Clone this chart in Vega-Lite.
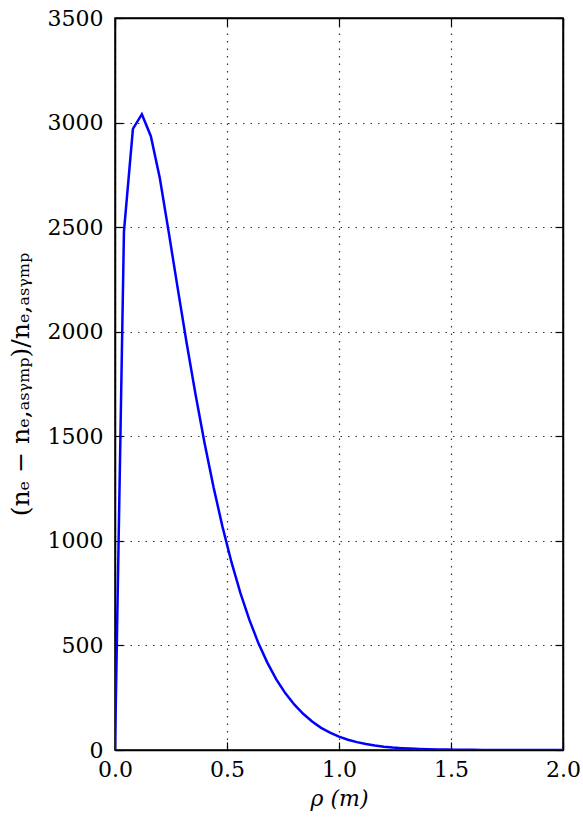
{
  "$schema": "https://vega.github.io/schema/vega-lite/v6.json",
  "width": 448,
  "height": 732,
  "autosize": {"type": "none"},
  "padding": {"left": 115, "top": 18, "right": 20, "bottom": 75},
  "background": "white",
  "config": {
    "view": {"stroke": "black", "strokeWidth": 1.5},
    "font": "DejaVu Serif",
    "axis": {
      "labelFont": "DejaVu Serif",
      "titleFont": "DejaVu Serif",
      "labelFontSize": 22,
      "titleFontSize": 22,
      "labelColor": "black",
      "titleColor": "black",
      "titleFontWeight": "normal",
      "domainColor": "black",
      "domainWidth": 1.5,
      "tickColor": "black",
      "tickWidth": 1.2,
      "tickSize": -8,
      "labelFlush": false,
      "labelOverlap": false
    }
  },
  "data": {
    "values": [
      {"rho": 0.00, "v": 0},
      {"rho": 0.04, "v": 2480},
      {"rho": 0.08, "v": 2970},
      {"rho": 0.12, "v": 3040},
      {"rho": 0.16, "v": 2935},
      {"rho": 0.20, "v": 2735},
      {"rho": 0.24, "v": 2475},
      {"rho": 0.28, "v": 2207},
      {"rho": 0.32, "v": 1945},
      {"rho": 0.36, "v": 1697},
      {"rho": 0.40, "v": 1467},
      {"rho": 0.44, "v": 1256},
      {"rho": 0.48, "v": 1067},
      {"rho": 0.52, "v": 898},
      {"rho": 0.56, "v": 750},
      {"rho": 0.60, "v": 622},
      {"rho": 0.64, "v": 511},
      {"rho": 0.68, "v": 418},
      {"rho": 0.72, "v": 338},
      {"rho": 0.76, "v": 272},
      {"rho": 0.80, "v": 218},
      {"rho": 0.84, "v": 173},
      {"rho": 0.88, "v": 136},
      {"rho": 0.92, "v": 106},
      {"rho": 0.96, "v": 83},
      {"rho": 1.00, "v": 64},
      {"rho": 1.04, "v": 49},
      {"rho": 1.08, "v": 37.6},
      {"rho": 1.12, "v": 28.5},
      {"rho": 1.16, "v": 21.5},
      {"rho": 1.20, "v": 16.1},
      {"rho": 1.24, "v": 12.0},
      {"rho": 1.28, "v": 8.9},
      {"rho": 1.32, "v": 6.6},
      {"rho": 1.36, "v": 4.8},
      {"rho": 1.40, "v": 3.5},
      {"rho": 1.44, "v": 2.6},
      {"rho": 1.48, "v": 1.8},
      {"rho": 1.52, "v": 1.3},
      {"rho": 1.56, "v": 0.94},
      {"rho": 1.60, "v": 0.67},
      {"rho": 1.64, "v": 0.47},
      {"rho": 1.68, "v": 0.33},
      {"rho": 1.72, "v": 0.23},
      {"rho": 1.76, "v": 0.16},
      {"rho": 1.80, "v": 0.11},
      {"rho": 1.84, "v": 0.08},
      {"rho": 1.88, "v": 0.05},
      {"rho": 1.92, "v": 0.04},
      {"rho": 1.96, "v": 0.03},
      {"rho": 2.00, "v": 0.02}
    ]
  },
  "resolve": {"axis": {"x": "independent", "y": "independent"}},
  "layer": [
    {
      "mark": {"type": "line", "color": "#0000ff", "strokeWidth": 2.5, "clip": true},
      "encoding": {
        "x": {
          "field": "rho", "type": "quantitative",
          "scale": {"domain": [0, 2], "nice": false, "zero": false},
          "axis": {
            "orient": "bottom",
            "values": [0, 0.5, 1, 1.5, 2],
            "format": ".1f",
            "title": "ρ (m)",
            "titleFontStyle": "italic",
            "labelPadding": 17,
            "titlePadding": 8,
            "grid": true,
            "gridColor": "black",
            "gridDash": [1.5, 6],
            "gridWidth": 1.2,
            "gridOpacity": 0.8
          }
        },
        "y": {
          "field": "v", "type": "quantitative",
          "scale": {"domain": [0, 3500], "nice": false},
          "axis": {
            "orient": "left",
            "values": [0, 500, 1000, 1500, 2000, 2500, 3000, 3500],
            "format": "d",
            "title": "(nₑ − nₑ,ₐₛᵧₘₚ)/nₑ,ₐₛᵧₘₚ",
            "titleFontSize": 25,
            "labelPadding": 20,
            "titlePadding": 14,
            "grid": true,
            "gridColor": "black",
            "gridDash": [1.5, 6],
            "gridWidth": 1.2,
            "gridOpacity": 0.8
          }
        }
      }
    },
    {
      "mark": {"type": "line", "strokeOpacity": 0},
      "encoding": {
        "x": {
          "field": "rho", "type": "quantitative",
          "scale": {"domain": [0, 2], "nice": false, "zero": false},
          "axis": {"orient": "top", "values": [0, 0.5, 1, 1.5, 2], "labels": false, "title": null, "grid": false}
        },
        "y": {
          "field": "v", "type": "quantitative",
          "scale": {"domain": [0, 3500], "nice": false},
          "axis": {"orient": "right", "values": [0, 500, 1000, 1500, 2000, 2500, 3000, 3500], "labels": false, "title": null, "grid": false}
        }
      }
    }
  ]
}
